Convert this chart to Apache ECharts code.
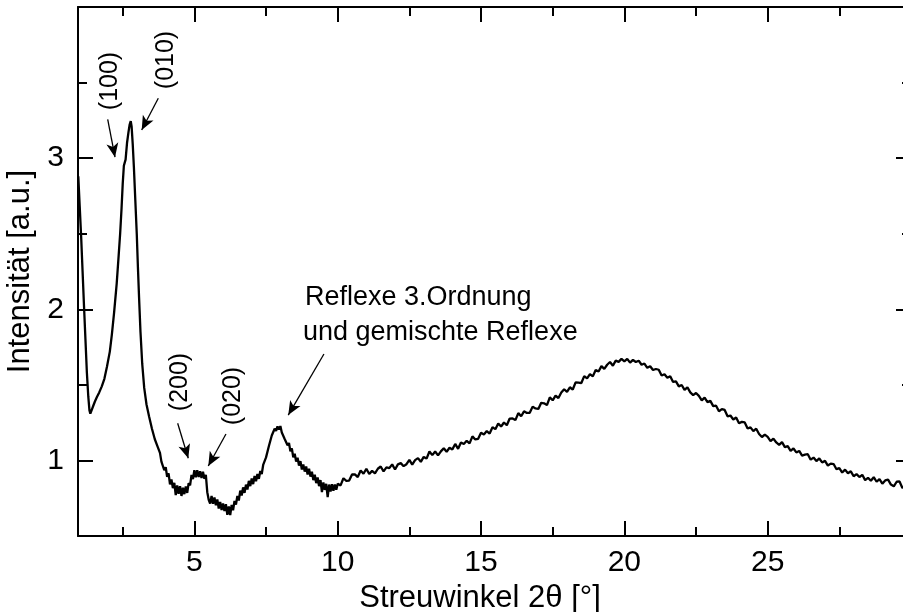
<!DOCTYPE html>
<html><head><meta charset="utf-8">
<script src="https://cdn.jsdelivr.net/npm/echarts@6/dist/echarts.min.js"></script>
<style>html,body{margin:0;padding:0;background:#fff;overflow:hidden}#c{width:903px;height:612px}</style>
</head><body><div id="c"></div><script>
// 2-theta scan angles [deg]
const angle = [
0.95,1.00,1.05,1.10,1.15,1.20,1.25,1.30,1.34,1.37,1.41,1.47,1.53,1.60,1.68,1.77,1.86,1.95,2.05,2.12,
2.20,2.29,2.36,2.41,2.46,2.50,2.54,2.57,2.60,2.65,2.70,2.74,2.78,2.81,2.85,2.89,2.94,2.99,3.03,3.07,
3.12,3.18,3.25,3.33,3.42,3.52,3.62,3.72,
3.80,3.85,3.90,3.95,
4.00,4.05,4.10,4.15,4.20,4.25,4.30,4.35,4.40,4.45,4.50,4.55,4.60,4.65,4.70,4.75,4.80,4.85,4.90,4.95,
5.00,5.05,5.10,5.15,5.20,5.25,5.30,5.35,5.40,5.45,5.50,5.55,5.60,5.65,5.70,5.75,5.80,5.85,5.90,5.95,
6.00,6.05,6.10,6.15,6.20,6.25,6.30,6.35,6.40,6.45,6.50,6.55,6.60,6.65,6.70,6.75,6.80,6.85,6.90,6.95,
7.00,7.05,7.10,7.15,7.20,7.25,7.30,7.35,7.40,7.45,7.50,7.55,7.60,7.65,7.70,7.75,7.80,7.85,7.90,7.95,
8.00,8.05,8.10,8.15,8.20,8.25,8.30,8.35,8.40,8.45,8.50,8.55,8.60,8.65,8.70,8.75,8.80,8.85,8.90,8.95,
9.00,9.05,9.10,9.15,9.20,9.25,9.30,9.35,9.40,9.45,9.50,9.55,9.60,9.65,9.70,9.75,9.80,9.85,9.90,9.95,
10.0,10.1,10.2,10.3,10.4,10.5,10.6,10.7,10.8,10.9,
11.0,11.1,11.2,11.3,11.4,11.5,11.6,11.7,11.8,11.9,
12.0,12.1,12.2,12.3,12.4,12.5,12.6,12.7,12.8,12.9,
13.0,13.1,13.2,13.3,13.4,13.5,13.6,13.7,13.8,13.9,
14.0,14.1,14.2,14.3,14.4,14.5,14.6,14.7,14.8,14.9,
15.0,15.1,15.2,15.3,15.4,15.5,15.6,15.7,15.8,15.9,
16.0,16.1,16.2,16.3,16.4,16.5,16.6,16.7,16.8,16.9,
17.0,17.1,17.2,17.3,17.4,17.5,17.6,17.7,17.8,17.9,
18.0,18.1,18.2,18.3,18.4,18.5,18.6,18.7,18.8,18.9,
19.0,19.1,19.2,19.3,19.4,19.5,19.6,19.7,19.8,19.9,
20.0,20.1,20.2,20.3,20.4,20.5,20.6,20.7,20.8,20.9,
21.0,21.1,21.2,21.3,21.4,21.5,21.6,21.7,21.8,21.9,
22.0,22.1,22.2,22.3,22.4,22.5,22.6,22.7,22.8,22.9,
23.0,23.1,23.2,23.3,23.4,23.5,23.6,23.7,23.8,23.9,
24.0,24.1,24.2,24.3,24.4,24.5,24.6,24.7,24.8,24.9,
25.0,25.1,25.2,25.3,25.4,25.5,25.6,25.7,25.8,25.9,
26.0,26.1,26.2,26.3,26.4,26.5,26.6,26.7,26.8,26.9,
27.0,27.1,27.2,27.3,27.4,27.5,27.6,27.7,27.8,27.9,
28.0,28.1,28.2,28.3,28.4,28.5,28.6,28.7,28.8,28.9,
29.0,29.1,29.2,29.3,29.4,29.5,29.6,29.7,29.8,29.9,
30.0
];
// intensity [a.u.]
const intensity = [
2.88,2.68,2.48,2.25,2.02,1.80,1.58,1.42,1.33,1.31,1.33,1.36,1.39,1.42,1.45,1.49,1.54,1.62,1.72,1.83,
1.98,2.17,2.36,2.50,2.67,2.83,2.95,2.97,2.99,3.10,3.17,3.22,3.245,3.21,3.09,2.94,2.72,2.50,2.28,2.08,
1.85,1.64,1.48,1.37,1.29,1.21,1.14,1.09,
1.05,0.992,1.0,0.935,
0.955,0.892,0.915,0.842,0.875,0.817,0.852,0.77,0.835,0.78,0.83,0.765,0.82,0.777,0.827,0.785,0.85,0.835,0.905,0.877,
0.935,0.888,0.935,0.891,0.928,0.883,0.925,0.878,0.905,0.79,0.74,0.715,0.765,0.713,0.755,0.703,0.742,0.682,0.725,0.672,
0.715,0.665,0.71,0.64,0.695,0.638,0.705,0.67,0.732,0.708,0.765,0.735,0.80,0.768,0.822,0.785,0.84,0.808,0.865,0.83,
0.88,0.843,0.897,0.862,0.91,0.878,0.93,0.91,0.97,0.957,1.02,1.025,1.095,1.103,1.165,1.16,1.21,1.195,1.225,1.205,
1.227,1.185,1.192,1.142,1.155,1.10,1.115,1.06,1.08,1.02,1.045,0.992,1.018,0.966,0.995,0.94,0.973,0.926,0.96,0.907,
0.945,0.893,0.925,0.87,0.905,0.85,0.887,0.83,0.87,0.79,0.855,0.805,0.845,0.757,0.84,0.795,0.842,0.80,0.84,0.807,
0.845,0.835,0.882,0.865,0.867,0.907,0.908,0.89,0.933,0.912,
0.945,0.91,0.931,0.915,0.945,0.96,0.927,0.954,0.949,0.974,
0.94,0.974,0.982,0.962,0.975,1.004,0.972,1.002,1.015,0.991,
1.023,1.012,1.059,1.035,1.059,1.033,1.06,1.081,1.057,1.084,
1.073,1.109,1.077,1.119,1.109,1.13,1.113,1.159,1.139,1.143,
1.183,1.172,1.194,1.178,1.219,1.207,1.245,1.224,1.251,1.233,
1.277,1.278,1.267,1.313,1.292,1.325,1.314,1.315,1.356,1.344,
1.341,1.381,1.378,1.366,1.417,1.398,1.428,1.413,1.449,1.471,
1.454,1.484,1.469,1.516,1.515,1.512,1.558,1.543,1.571,1.556,
1.598,1.588,1.624,1.606,1.633,1.651,1.627,1.66,1.652,1.672,
1.656,1.672,1.647,1.665,1.651,1.66,1.633,1.641,1.613,1.623,
1.598,1.605,1.6,1.562,1.57,1.547,1.557,1.519,1.523,1.49,
1.499,1.467,1.484,1.45,1.432,1.446,1.427,1.397,1.415,1.386,
1.394,1.359,1.362,1.325,1.34,1.334,1.292,1.297,1.271,1.284,
1.246,1.255,1.251,1.211,1.219,1.194,1.21,1.175,1.155,1.171,
1.156,1.128,1.144,1.119,1.103,1.121,1.088,1.094,1.063,1.079,
1.053,1.063,1.032,1.038,1.041,1.005,1.019,0.996,1.013,0.987,
0.997,0.966,0.979,0.976,0.942,0.949,0.92,0.939,0.915,0.928,
0.895,0.909,0.89,0.905,0.87,0.885,0.865,0.889,0.859,0.876,
0.846,0.868,0.873,0.84,0.829,0.859,0.861,0.818,0.838,0.815,
0.82
];
const xMajorTicks = [5, 10, 15, 20, 25];
const xMinorTicks = [2.5, 7.5, 12.5, 17.5, 22.5, 27.5];
const yMajorTicks = [1, 2, 3];
const yMinorTicks = [1.5, 2.5, 3.5];
// annotation arrows [x from, y from, x to, y to] in data units
const arrowLines = [
  [1.976, 3.257, 2.231, 3.006],
  [3.741, 3.396, 3.162, 3.186],
  [4.417, 1.246, 4.787, 1.014],
  [6.102, 1.175, 5.485, 0.963],
  [9.520, 1.704, 8.275, 1.300]
];
const peakLabels = ['(100)', '(010)', '(200)', '(020)'];
const noteLines = ['Reflexe 3.Ordnung', 'und gemischte Reflexe'];

const FONT = '"Liberation Sans", Arial, Helvetica, sans-serif';
const X_MIN = 0.94, X_MAX = 30, Y_MIN = 0.5, Y_MAX = 4.0;

function xAx(pos, ticks, len, line, labels) {
  return {
    type: 'value', position: pos, min: X_MIN, max: X_MAX,
    splitLine: {show: false},
    axisLine: {show: line, onZero: false, lineStyle: {color: '#000', width: 2}},
    axisTick: {show: true, inside: true, length: len, customValues: ticks, lineStyle: {color: '#000', width: 2}},
    axisLabel: {show: !!labels, customValues: labels || ticks, margin: 12, color: '#000', fontSize: 30, fontFamily: FONT}
  };
}
function yAx(pos, ticks, len, line, labels) {
  return {
    type: 'value', position: pos, min: Y_MIN, max: Y_MAX,
    splitLine: {show: false},
    axisLine: {show: line, onZero: false, lineStyle: {color: '#000', width: 2}},
    axisTick: {show: true, inside: true, length: len, customValues: ticks, lineStyle: {color: '#000', width: 2}},
    axisLabel: {show: !!labels, customValues: labels || ticks, margin: 14, color: '#000', fontSize: 30, fontFamily: FONT}
  };
}

const xAxes = [
  Object.assign(xAx('bottom', xMajorTicks, 15, true, xMajorTicks), {
    name: 'Streuwinkel 2θ [°]', nameLocation: 'middle', nameGap: 36,
    nameTextStyle: {color: '#000', fontSize: 31, fontFamily: FONT, padding: [0, 29, 0, 0]}
  }),
  xAx('bottom', xMinorTicks, 9, false, null),
  xAx('top', xMajorTicks, 15, true, null),
  xAx('top', xMinorTicks, 9, false, null)
];
const yAxes = [
  Object.assign(yAx('left', yMajorTicks, 15, true, yMajorTicks), {
    name: 'Intensität [a.u.]', nameLocation: 'middle', nameGap: 31, nameRotate: 90,
    nameTextStyle: {color: '#000', fontSize: 31, fontFamily: FONT}
  }),
  yAx('left', yMinorTicks, 9, false, null),
  yAx('right', yMajorTicks, 15, true, null),
  yAx('right', yMinorTicks, 9, false, null)
];

const data = angle.map((a, i) => [a, intensity[i]]);

const chart = echarts.init(document.getElementById('c'), null, {renderer: 'canvas'});
chart.setOption({
  animation: false,
  backgroundColor: '#fff',
  grid: {left: 78, top: 7, width: 833, height: 529, containLabel: false, outerBoundsMode: 'none'},
  xAxis: xAxes,
  yAxis: yAxes,
  series: [{
    type: 'line', xAxisIndex: 0, yAxisIndex: 0, data: data,
    showSymbol: false, symbol: 'none',
    lineStyle: {color: '#000', width: 2.3},
    markLine: {
      silent: true, animation: false,
      symbol: ['none', 'arrow'], symbolSize: [9, 14],
      lineStyle: {color: '#000', width: 1.3, type: 'solid'},
      label: {show: false},
      emphasis: {disabled: true},
      data: arrowLines.map(a => [{coord: [a[0], a[1]]}, {coord: [a[2], a[3]]}])
    }
  }],
  graphic: [
    {type: 'text', x: 110.5, y: 81, rotation: Math.PI / 2, style: {text: peakLabels[0], font: '25px ' + FONT, fill: '#000', align: 'center', verticalAlign: 'middle'}},
    {type: 'text', x: 166, y: 60, rotation: Math.PI / 2, style: {text: peakLabels[1], font: '25px ' + FONT, fill: '#000', align: 'center', verticalAlign: 'middle'}},
    {type: 'text', x: 180, y: 382, rotation: Math.PI / 2, style: {text: peakLabels[2], font: '25px ' + FONT, fill: '#000', align: 'center', verticalAlign: 'middle'}},
    {type: 'text', x: 233, y: 396, rotation: Math.PI / 2, style: {text: peakLabels[3], font: '25px ' + FONT, fill: '#000', align: 'center', verticalAlign: 'middle'}},
    {type: 'text', x: 305, y: 298, style: {text: noteLines[0], font: '27px ' + FONT, fill: '#000', align: 'left', verticalAlign: 'middle'}},
    {type: 'text', x: 303, y: 333, style: {text: noteLines[1], font: '27px ' + FONT, fill: '#000', align: 'left', verticalAlign: 'middle'}}
  ]
});
</script></body></html>
